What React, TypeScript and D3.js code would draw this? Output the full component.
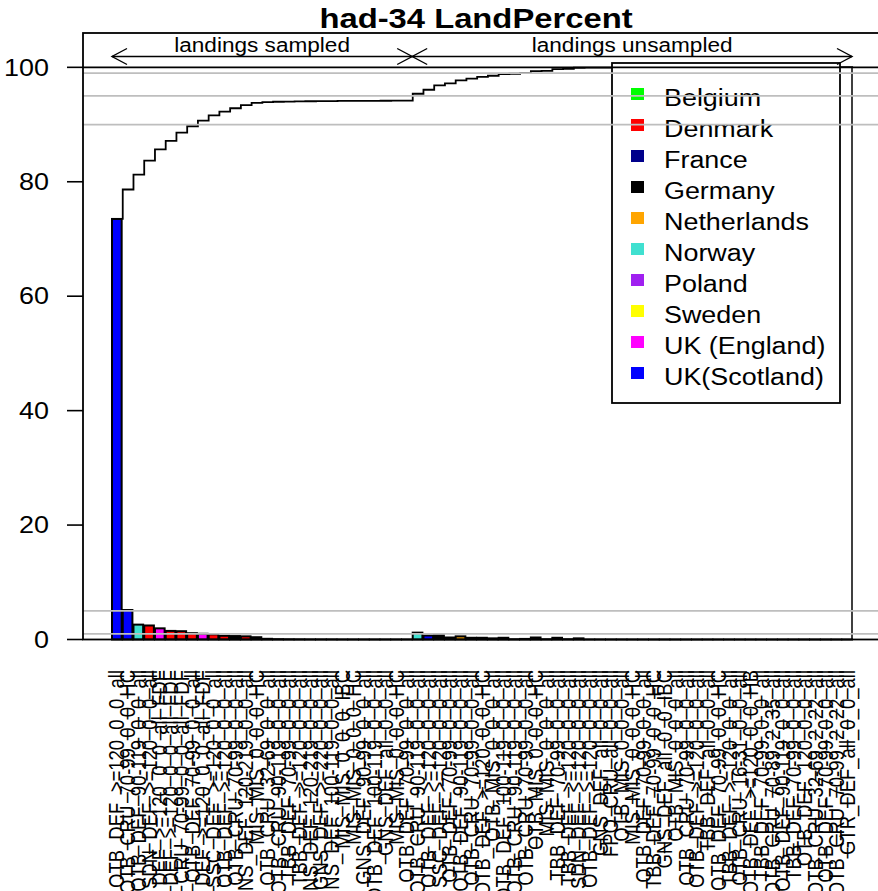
import React from "react";
import * as d3 from "d3";

// metier labels, in plotted order (first 28 are sampled)
const categories = [
  "OTB_DEF_>=120_0_0_all", "OTB_CRU_70-99_0_0_HC", "OTB_DEF_90-119_0_0_all", "SDN_DEF_>=120_0_0_all",
  "OTB_DEF_>=120_0_0_all_FDF", "SDN_DEF_>=120_0_0_all_FDF", "OTB_CRU_70-99_0_0_all_FDF", "OTB_DEF_70-99_0_0_all",
  "SSC_DEF_>=120_0_0_all_FDF", "SSC_DEF_>=120_0_0_all", "OTB_DEF_>=120_0_0_all", "OTB_CRU_70-99_0_0_all",
  "GNS_DEF_120-219_0_0_all", "MIS_MIS_0_0_0_HC", "OTB_CRU_32-69_0_0_all", "OTB_CRU_90-119_0_0_all",
  "TBB_DEF_70-99_0_0_all", "TBB_DEF_>=120_0_0_all", "GNS_DEF_120-219_0_0_all", "GNS_DEF_>=220_0_0_all",
  "GNS_DEF_100-119_0_0_all", "MIS_MIS_0_0_0_IBC", "MIS_MIS_0_0_0_HC", "GNS_DEF_90-99_0_0_all",
  "OTB_DEF_100-119_0_0_all", "GNS_DEF_all_0_0_all", "MIS_MIS_0_0_0_HC", "OTB_DEF_70-99_0_0_all",
  "OTB_CRU_90-119_0_0_all", "OTB_DEF_>=120_0_0_all", "SSC_DEF_>=120_0_0_all", "OTB_DEF_70-99_0_0_all",
  "OTB_DEF_90-119_0_0_all", "OTB_CRU_70-99_0_0_all", "OTB_DEF_>=120_0_0_HC", "OTB_MIS_0_0_0_all",
  "OTB_DEF_100-119_0_0_all", "OTB_CRU_90-119_0_0_all", "OTB_CRU_70-99_0_0_all", "OTB_MIS_0_0_0_HC",
  "MIS_MIS_0_0_0_all", "TBB_DEF_70-99_0_0_all", "TBB_DEF_>=120_0_0_all", "SDN_DEF_>=120_0_0_all",
  "OTB_DEF_>=120_0_0_all", "GNS_DEF_all_0_0_all", "FPO_CRU_all_0_0_all", "OTB_MIS_0_0_0_all",
  "MIS_MIS_0_0_0_HC", "OTB_DEF_70-99_0_0_all", "TBB_DEF_70-99_0_0_HC", "GNS_DEF_all_0_0_IBC",
  "OTB_MIS_0_0_0_all", "OTB_CRU_70-99_0_0_all", "OTB_DEF_>=120_0_0_all", "TBB_DEF_all_0_0_all",
  "OTB_DEF_70-99_0_0_HC", "TBB_DEF_>=120_0_0_all", "OTB_CRU_16-31_0_0_all", "OTB_DEF_>=120_0_0_HB",
  "TBB_DEF_70-99_0_0_all", "OTB_CRU_70-89_2_35_all", "OTB_DEF_90-119_0_0_all", "TBB_DEF_70-99_0_0_all",
  "OTB_DEF_120_0_0_all", "OTB_CRU_32-69_2_22_all", "OTB_DEF_70-99_0_0_all", "OTB_CRU_70-99_2_22_all",
  "GTR_DEF_all_0_0_all",
];

// percent of landings per metier
const landPercent = [
  73.5, 5.15, 2.6, 2.45, 1.95, 1.5, 1.45, 1.1, 1.0, 0.9, 0.65, 0.6, 0.55, 0.4,
  0.12, 0.06, 0.04, 0.03, 0.02, 0.02, 0.02, 0.01, 0.01, 0.01, 0.01, 0.01, 0.01, 0.01,
  1.2, 0.7, 0.75, 0.35, 0.55, 0.3, 0.3, 0.2, 0.3, 0.05, 0.1, 0.35, 0.05, 0.3, 0.05, 0.2,
  0.01, 0.01, 0.01, 0.01, 0.005, 0.005, 0.005, 0.005, 0.004, 0.004, 0.004, 0.004, 0.003,
  0.003, 0.003, 0.003, 0.002, 0.002, 0.002, 0.002, 0.002, 0.001, 0.001, 0.001, 0.001,
];

const barCountry = [
  "UK(Scotland)", "UK(Scotland)", "Norway", "Denmark", "UK (England)", "Denmark", "Denmark", "Denmark",
  "UK (England)", "Denmark", "Denmark", "Germany", "Denmark", "Germany", "Germany", "Denmark",
  "UK(Scotland)", "Netherlands", "Germany", "Denmark", "Norway", "Denmark", "UK(Scotland)", "Sweden",
  "France", "Belgium", "Germany", "Poland",
  "Norway", "UK(Scotland)", "Germany", "Sweden", "Netherlands", "Denmark", "UK (England)", "France",
  "Germany", "Sweden", "Netherlands", "Norway", "Belgium", "Netherlands", "Belgium", "Denmark",
  "Poland", "Germany", "France", "UK(Scotland)", "Sweden", "Netherlands", "Belgium", "Germany",
  "Norway", "Sweden", "France", "Netherlands", "UK (England)", "Belgium", "Norway", "France",
  "Germany", "Denmark", "Poland", "Belgium", "Denmark", "Germany", "Sweden", "Denmark", "France",
];

const sampledCount = 28;

const countries = ["Belgium", "Denmark", "France", "Germany", "Netherlands", "Norway", "Poland", "Sweden", "UK (England)", "UK(Scotland)"];
const countryColors = ["#00ff00", "#ff0000", "#00008b", "#000000", "#ffa500", "#40e0d0", "#a020f0", "#ffff00", "#ff00ff", "#0000ff"];

const yTicks = [0, 20, 40, 60, 80, 100];
const greyLines = [99, 95, 90, 5, 1];

const FONT = "Liberation Sans, Arial, Helvetica, sans-serif";
const SX = 1.17; // the device is a bit wider than tall, text looks stretched

export default function App() {
  const W = 878, H = 891;
  const left = 83, right = 880, top = 33, bottom = 639.5;

  const x = d3.scaleBand<number>()
    .domain(d3.range(landPercent.length))
    .range([112, 852])
    .paddingInner(0.1)
    .paddingOuter(0);
  const y = d3.scaleLinear().domain([0, 106]).range([bottom, top]);
  const color = d3.scaleOrdinal<string, string>().domain(countries).range(countryColors);

  const cum = Array.from(d3.cumsum(landPercent));
  const step = x.step();
  let path = "";
  cum.forEach((c, i) => {
    const x0 = x(i)!;
    path += (i === 0 ? `M${x0},${y(c)}` : `L${x0},${y(c)}`) + `L${x0 + step},${y(c)}`;
  });
  const lastX = x(landPercent.length - 1)! + x.bandwidth();
  const midX = x(sampledCount)! - step * 0.05;
  const firstX = x(0)!;
  const arrowY = 56.5;

  const stretch = (tx: number, ty: number) => `translate(${tx},${ty}) scale(${SX},1)`;

  return (
    <svg width={W} height={H} style={{ position: "absolute", left: 0, top: 0, background: "#fff" }} fontFamily={FONT}>
      <rect x={0} y={0} width={W} height={H} fill="#fff" />

      <text transform={stretch(476, 28)} textAnchor="middle" fontWeight="bold" fontSize={28}>had-34 LandPercent</text>

      {/* bars */}
      {landPercent.map((v, i) => (
        <rect key={i} x={x(i)} y={y(v)} width={x.bandwidth()} height={bottom - y(v)}
          fill={color(barCountry[i])} stroke="#000" strokeWidth={2} />
      ))}

      {/* cumulative landings */}
      <path d={path} fill="none" stroke="#000" strokeWidth={1.8} />
      <line x1={lastX} x2={lastX} y1={y(100)} y2={bottom} stroke="#000" strokeWidth={1.5} />

      {/* legend */}
      <rect x={612} y={63} width={228} height={340} fill="#fff" stroke="#000" strokeWidth={1.8} />
      {countries.map((c, i) => {
        const base = 106 + i * 31;
        return (
          <g key={c}>
            <rect x={631} y={base - 18} width={13} height={12} fill={countryColors[i]} />
            <text transform={stretch(664, base)} fontSize={23}>{c}</text>
          </g>
        );
      })}

      {/* reference lines */}
      {greyLines.map((g) => (
        <line key={g} x1={left} x2={right} y1={y(g)} y2={y(g)} stroke="#bebebe" strokeWidth={1.8} />
      ))}
      <line x1={left} x2={right} y1={y(100)} y2={y(100)} stroke="#000" strokeWidth={1.8} />

      {/* sampled / unsampled arrows */}
      <g stroke="#000" strokeWidth={1.4} fill="none">
        <line x1={firstX} x2={lastX} y1={arrowY} y2={arrowY} />
        <path d={`M${firstX + 15},${arrowY - 8}L${firstX},${arrowY}L${firstX + 15},${arrowY + 8}`} />
        <path d={`M${midX - 15},${arrowY - 8}L${midX},${arrowY}L${midX - 15},${arrowY + 8}`} />
        <path d={`M${midX + 15},${arrowY - 8}L${midX},${arrowY}L${midX + 15},${arrowY + 8}`} />
        <path d={`M${lastX - 15},${arrowY - 8}L${lastX},${arrowY}L${lastX - 15},${arrowY + 8}`} />
      </g>
      <text transform={stretch((firstX + midX) / 2, 52)} textAnchor="middle" fontSize={19.3}>landings sampled</text>
      <text transform={stretch((midX + lastX) / 2, 52)} textAnchor="middle" fontSize={19.3}>landings unsampled</text>

      {/* box */}
      <rect x={left} y={top} width={right - left} height={bottom - top} fill="none" stroke="#000" strokeWidth={1.8} />

      {/* y axis */}
      {yTicks.map((t) => (
        <g key={t}>
          <line x1={67} x2={left} y1={y(t)} y2={y(t)} stroke="#000" strokeWidth={1.6} />
          <text transform={stretch(49, y(t))} textAnchor="end" dy="0.36em" fontSize={23}>{t}</text>
        </g>
      ))}

      {/* x labels */}
      {categories.map((c, i) => (
        <text key={i}
          transform={`translate(${x(i)! + x.bandwidth() / 2},670) scale(${SX},1) rotate(-90)`}
          textAnchor="end" dy="0.35em" fontSize={18.5}>{c}</text>
      ))}
    </svg>
  );
}
